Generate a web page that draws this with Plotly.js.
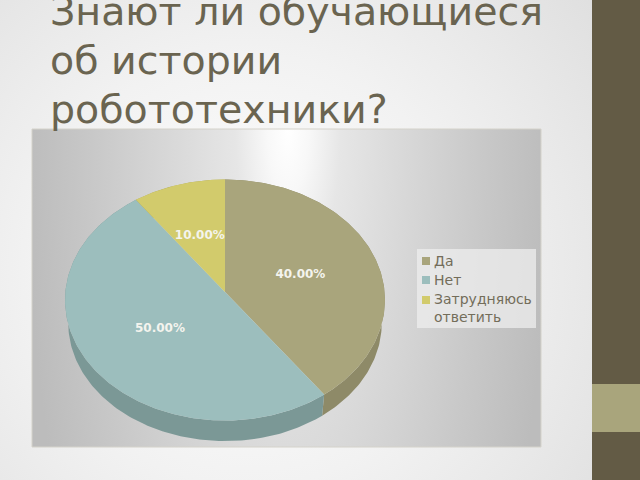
<!DOCTYPE html>
<html><head><meta charset="utf-8">
<script src="https://cdn.plot.ly/plotly-3.0.1.min.js"></script>
<style>
html,body{margin:0;padding:0;width:640px;height:480px;overflow:hidden}
#slide{position:absolute;left:0;top:0;width:640px;height:480px;background:radial-gradient(ellipse 480px 480px at 250px 270px,#ffffff 0%,#f2f2f2 45%,#dcdcdc 100%)}
#panel{position:absolute;left:32px;top:129px;width:509px;height:318px;background:radial-gradient(ellipse 262px 800px at 256px 0px,#ffffff 0%,#f8f8f8 8%,#e6e6e6 20%,#d8d8d8 45%,#c8c8c8 75%,#bcbcbc 100%)}
#chart{position:absolute;left:0;top:0;width:640px;height:480px}
</style></head><body>
<div id="slide"></div><div id="panel"></div><div id="chart"></div>
<script>
const titleLines = ['Знают ли обучающиеся','об истории','робототехники?'];
const titleBaselineY = [0,75,124];
const categories = ['Да','Нет','Затрудняюсь<br>ответить'];
const values = [40,50,10];
const colors = ['#a9a57c','#9cbebd','#d2cb6c'];
const wallColors = ['#8e8a68','#7b9896','#a8a356'];

const cx=225, apexY=292, a=159.6, b=120, k=0.0664, depth=23, shrink=0.98;
const total = values.reduce((s,v)=>s+v,0);
function proj(theta,scale,dy){
  const u=Math.sin(theta), v=Math.cos(theta), w=1+k*v;
  return [cx+scale*a*u/w, apexY-scale*b*v/w+(scale===1?0:8*(1-scale))+dy];
}
function arc(t0,t1,scale,dy){
  const pts=[], n=Math.max(8,Math.ceil((t1-t0)*60));
  for(let i=0;i<=n;i++) pts.push(proj(t0+(t1-t0)*i/n,scale,dy));
  return pts;
}
const traces=[], walls=[], tops=[];
let acc=0;
const labelX=[],labelY=[],labelT=[];
values.forEach((val,i)=>{
  const t0=acc/total*2*Math.PI, t1=(acc+val)/total*2*Math.PI; acc+=val;
  const top=arc(t0,t1,1,0), bot=arc(t0,t1,shrink,depth).reverse();
  const w=top.concat(bot); w.push(top[0]);
  walls.push({type:'scatter',mode:'lines',x:w.map(p=>p[0]),y:w.map(p=>p[1]),fill:'toself',fillcolor:wallColors[i],line:{width:0},hoverinfo:'skip',showlegend:false});
  const f=[[cx,apexY]].concat(top); f.push([cx,apexY]);
  tops.push({type:'scatter',mode:'lines',name:categories[i],x:f.map(p=>p[0]),y:f.map(p=>p[1]),fill:'toself',fillcolor:colors[i],line:{width:0},showlegend:false});
  const m=(t0+t1)/2;
  labelX.push(cx+a*0.5*Math.sin(m)-0.5); labelY.push(apexY-b*0.5*Math.cos(m)+1.5); labelT.push(val.toFixed(2)+'%');
});
traces.push(...walls,...tops);
traces.push({type:'scatter',mode:'text',x:labelX,y:labelY,text:labelT,textposition:'middle center',textfont:{family:'DejaVu Sans',size:12,color:'#f4f4ee',weight:700},hoverinfo:'skip',showlegend:false});

const swatchX=[426,426,426], rowY=[261,280,300];
traces.push({type:'scatter',mode:'markers',x:swatchX,y:rowY,marker:{symbol:'square',size:8,color:colors,line:{width:0}},hoverinfo:'skip',showlegend:false});

const annotations=categories.map((c,i)=>({xref:'x',yref:'y',x:433,y:rowY[i]-0.5,xanchor:'left',yanchor:i===2?'top':'middle',yshift:i===2?10:0,text:c,showarrow:false,align:'left',font:{family:'DejaVu Sans',size:14,color:'#736d5a'},borderpad:0}));
[1,2].forEach(i=>annotations.push({xref:'x',yref:'y',x:50,y:titleBaselineY[i],xanchor:'left',yanchor:'bottom',yshift:-9,xshift:-1,text:titleLines[i],showarrow:false,align:'left',font:{family:'DejaVu Sans',size:39.5,color:'#6a6450'},borderpad:0}));

const layout={width:640,height:480,margin:{l:0,r:0,t:0,b:0},showlegend:false,
  paper_bgcolor:'rgba(0,0,0,0)',plot_bgcolor:'rgba(0,0,0,0)',
  title:{text:titleLines[0],x:50/640,xanchor:'left',xref:'paper',y:1-25/480,yanchor:'bottom',yref:'paper',font:{family:'DejaVu Sans',size:39.5,color:'#6a6450'}},
  xaxis:{range:[0,640],visible:false,fixedrange:true},
  yaxis:{range:[480,0],visible:false,fixedrange:true},
  annotations:annotations,
  shapes:[
   {type:'rect',xref:'x',yref:'y',x0:32,x1:541,y0:129,y1:447,line:{color:'#d4d2ca',width:1},layer:'below'},
   {type:'rect',xref:'x',yref:'y',x0:417,x1:536,y0:249,y1:328,fillcolor:'rgba(238,238,238,0.75)',line:{width:0},layer:'below'},
   {type:'rect',xref:'x',yref:'y',x0:592,x1:640,y0:0,y1:480,fillcolor:'#635b45',line:{width:0},layer:'below'},
   {type:'rect',xref:'x',yref:'y',x0:592,x1:640,y0:384,y1:432,fillcolor:'#a9a57c',line:{width:0},layer:'below'}
  ]};
Plotly.newPlot('chart',traces,layout,{displayModeBar:false,staticPlot:true});
</script></body></html>
